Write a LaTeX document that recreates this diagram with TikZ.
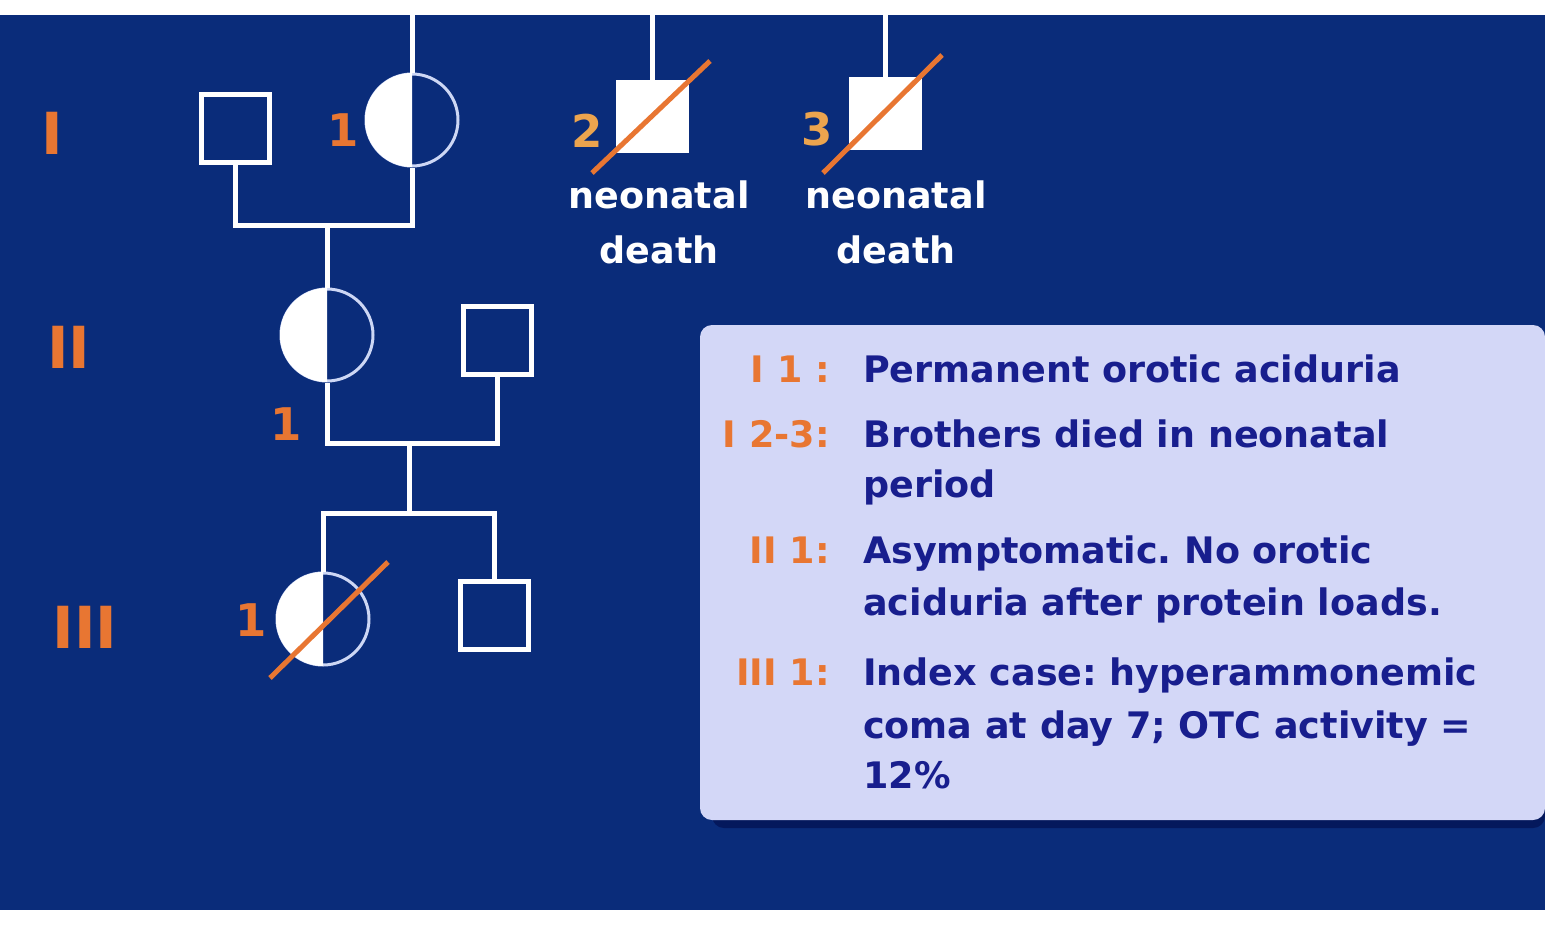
\documentclass[tikz,border=0pt]{standalone}
\usepackage{fontspec}
\setmainfont{DejaVu Sans}
\usepackage{xcolor}
\usepackage{tikz}
\usetikzlibrary{calc,positioning}
\frenchspacing
\definecolor{slideBlue}{RGB}{10,44,122}
\definecolor{shadowBlue}{RGB}{4,24,92}
\definecolor{ringWhite}{RGB}{205,215,245}
\definecolor{pedOrange}{RGB}{232,118,50}
\definecolor{pedAmber}{RGB}{236,164,78}
\definecolor{keyFill}{RGB}{211,215,247}
\definecolor{keyInk}{RGB}{24,30,142}
\newcommand{\halfcarrier}[1]{%
  \begin{scope}
    \clip (#1.west |- #1.north) rectangle (#1.south);
    \fill[white] (#1.center) circle (47);
  \end{scope}}

\begin{document}
\begin{tikzpicture}[x=1pt,y=-1pt,
  male/.style={draw=white,line width=5pt,minimum size=68pt,inner sep=0pt},
  female/.style={circle,draw=ringWhite,line width=3pt,minimum size=92pt,inner sep=0pt},
  link/.style={draw=white,line width=5pt},
  deceased/.style={draw=pedOrange,line width=5pt},
  genlbl/.style={text=pedOrange,font=\bfseries\fontsize{58}{60}\selectfont,inner sep=0pt},
  numlbl/.style={text=pedOrange,font=\bfseries\fontsize{45}{48}\selectfont,inner sep=0pt},
  deathtxt/.style={text=white,font=\bfseries\fontsize{36.5}{55}\selectfont,align=center,inner sep=0pt,anchor=north},
  keylbl/.style={text=pedOrange,font=\bfseries\fontsize{36.5}{40}\selectfont,inner sep=0pt,anchor=base east},
  keytxt/.style={text=keyInk,font=\bfseries\fontsize{36.5}{40}\selectfont,inner sep=0pt,anchor=base west}]
\useasboundingbox (0,0) rectangle (1545,927);
\fill[slideBlue] (0,15) rectangle (1545,910);

\node[genlbl] (genI) at (52,133) {I};
\node[genlbl] (genII) at (69,347) {II};
\node[genlbl] (genIII) at (85,627) {III};

\node[male] (gIa) at (235,128) {};
\node[female] (gIb) at (412,120) {};
\halfcarrier{gIb}
\node[male,fill=white] (gIc) at (652,116) {};
\node[male,fill=white] (gId) at (885,113) {};
\node[female] (gIIa) at (327,335) {};
\halfcarrier{gIIa}
\node[male] (gIIb) at (497,340) {};
\node[female] (gIIIa) at (323,619) {};
\halfcarrier{gIIIa}
\node[male] (gIIIb) at (494,615) {};

\coordinate (upIb) at (gIb.north |- 0,15);
\coordinate (upIc) at (gIc.north |- 0,15);
\coordinate (upId) at (gId.north |- 0,15);
\coordinate (mateI) at (327,225);
\coordinate (mateII) at (409,443);
\coordinate (sibIII) at (409,513);

\draw[link] (upIb) -- (gIb.north);
\draw[link] (upIc) -- (gIc.north);
\draw[link] (upId) -- (gId.north);
\draw[link] (gIa.south) |- (mateI) -| (gIb.south);
\draw[link] (mateI) -- (gIIa.north);
\draw[link] (gIIa.south) |- (mateII) -| (gIIb.south);
\draw[link] (mateII) -- (sibIII);
\draw[link] (gIIIa.north) |- (sibIII) -| (gIIIb.north);

\draw[deceased] ([shift={(-60,57)}]gIc.center) -- ([shift={(58,-55)}]gIc.center);
\draw[deceased] ([shift={(-62,60)}]gId.center) -- ([shift={(57,-58)}]gId.center);
\draw[deceased] ([shift={(-53,59)}]gIIIa.center) -- ([shift={(65,-57)}]gIIIa.center);

\node[numlbl] (nIb) at (343,130) {1};
\node[numlbl,text=pedAmber] (nIc) at (587,131) {2};
\node[numlbl,text=pedAmber] (nId) at (817,129) {3};
\node[numlbl] (nIIa) at (286,424) {1};
\node[numlbl] (nIIIa) at (251,620) {1};
\node[deathtxt] (dIc) at (659,181) {neonatal\\death};
\node[deathtxt] (dId) at (896,181) {neonatal\\death};

\fill[shadowBlue,rounded corners=12pt] (712,333) rectangle (1545,828);
\fill[keyFill,rounded corners=12pt] (700,325) rectangle (1545,820);
\foreach \y/\lab [count=\k] in {382/I 1 :,447/I 2-3:,563/II 1:,685/III 1:}
  \node[keylbl] (key\k) at (830,\y) {\lab};
\foreach \y/\txt [count=\k] in {382/Permanent orotic aciduria,447/Brothers died in neonatal,497/period,563/Asymptomatic. No orotic,615/aciduria after protein loads.,685/Index case: hyperammonemic,738/coma at day 7; OTC activity =,788/12\%}
  \node[keytxt] (txt\k) at (863,\y) {\txt};
\end{tikzpicture}
\end{document}
